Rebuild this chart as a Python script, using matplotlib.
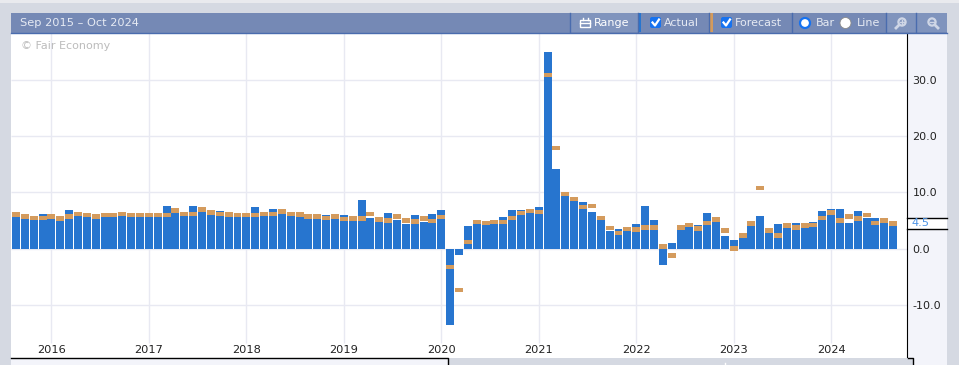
import matplotlib
matplotlib.use("Agg")
import matplotlib.pyplot as plt
from matplotlib.patches import Rectangle, FancyBboxPatch, Circle

# --- data ---
actual = [6.05, 5.7, 5.5, 6.2, 5.7, 5.35, 6.9, 6.2, 5.9, 6.2,
          5.9, 6.4, 6.2, 5.9, 5.9, 5.9, 6.4, 7.65, 6.75, 6.2,
          7.65, 6.95, 6.4, 6.75, 6.05, 5.9, 5.9, 7.3, 6.2, 7.1,
          6.6, 6.2, 6.05, 6.2, 5.7, 6.05, 5.7, 5.9, 5.35, 8.55,
          5.5, 4.8, 6.4, 5.0, 4.45, 5.9, 4.8, 6.15, 6.85, -13.6,
          -1.15, 4.0, 4.7, 4.5, 4.7, 5.6, 6.85, 6.85, 6.7, 7.4,
          35.0, 14.15, 9.4, 8.45, 8.3, 6.5, 5.1, 3.1, 3.45, 3.1,
          4.45, 7.65, 5.15, -3.0, 0.9, 3.4, 3.9, 4.25, 6.4, 4.8,
          2.3, 1.45, 2.0, 4.1, 5.7, 2.85, 4.45, 3.75, 4.6, 4.6,
          4.8, 6.75, 6.95, 7.1, 4.6, 6.75, 5.5, 5.35, 4.6, 4.5]
forecast = [6.05, 5.7, 5.5, 5.5, 5.7, 5.35, 5.7, 6.2, 5.9, 5.7,
            5.9, 5.9, 6.2, 5.9, 5.9, 5.9, 5.9, 5.9, 6.75, 6.2,
            6.2, 6.95, 6.4, 6.2, 6.05, 5.9, 5.9, 5.9, 6.2, 6.2,
            6.6, 6.2, 6.05, 5.7, 5.7, 5.5, 5.7, 5.2, 5.35, 5.35,
            6.2, 5.15, 5.0, 5.7, 5.0, 4.8, 5.35, 4.85, 5.6, -3.3,
            -7.4, 1.15, 4.7, 4.55, 4.7, 4.7, 5.4, 6.3, 6.7, 6.5,
            30.9, 17.9, 9.7, 8.8, 7.4, 7.55, 5.4, 3.65, 2.75, 3.45,
            3.4, 3.75, 3.75, 0.35, -1.25, 3.75, 4.25, 3.55, 4.6, 5.15,
            3.2, 0.0, 2.3, 4.45, 10.7, 3.2, 2.3, 4.1, 3.75, 4.1,
            4.25, 5.5, 6.4, 5.0, 5.7, 5.35, 5.9, 4.6, 5.0, 4.45]
year_labels = ["2016", "2017", "2018", "2019", "2020", "2021", "2022", "2023", "2024"]
year_pos = [4, 15, 26, 37, 48, 59, 70, 81, 92]
y_ticks = [-10, 0, 10, 20, 30]
last_value = 4.5

W, H = 959, 365
PAGE = "#d5d9e2"
HEAD = "#7589b5"
HEAD_LINE = "#4a6cae"
LIGHT = "#f3f4fa"
BLUE = "#2775cf"
TAN = "#d49b5d"
GRID = "#e8e9f2"
HEAD_TXT = "#e6eaf3"

plt.rcParams['font.family'] = ['DejaVu Sans']
fig = plt.figure(figsize=(W / 100, H / 100), dpi=100, facecolor=PAGE)

# overlay in pixel coordinates for the page furniture
bg = fig.add_axes([0, 0, 1, 1], zorder=0)
bg.set_xlim(0, W)
bg.set_ylim(H, 0)
bg.axis("off")
bg.add_patch(Rectangle((0, 0), W, 3, fc="#e9eaee", ec="none"))
bg.add_patch(Rectangle((11, 33), 896, 325, fc="white", ec="none"))
bg.add_patch(Rectangle((907, 33), 40, 332, fc=LIGHT, ec="none"))
bg.add_patch(Rectangle((11, 358), 437, 7, fc=LIGHT, ec="none"))
bg.add_patch(Rectangle((907, 217.5), 40, 11, fc="white", ec="none"))

# --- chart ---
ax = fig.add_axes([11 / W, 1 - 358 / H, 896 / W, 325 / H], zorder=1)
ax.patch.set_alpha(0)
x = list(range(len(actual)))
ax.vlines(year_pos, -16.8, 38.35, color=GRID, lw=1, zorder=1)
ax.hlines(y_ticks, -0.564, 100.56, color=GRID, lw=1, zorder=1)
ax.bar(x, actual, width=0.9, color=BLUE, zorder=2)
band = 0.75
ax.bar(x, [band] * len(x), bottom=[f - band / 2 for f in forecast], width=0.9, color=TAN, zorder=3)
ax.set_xlim(-0.564, 100.56)
ax.set_ylim(-19.48, 38.35)
ax.yaxis.tick_right()
ax.set_yticks(y_ticks)
ax.set_yticklabels([f"{v:.1f}" for v in y_ticks], fontsize=8, color="#222222")
ax.set_xticks([])
ax.tick_params(axis="y", length=0, pad=4)
for s in ["top", "left"]:
    ax.spines[s].set_visible(False)
ax.spines["right"].set_color("black")
ax.spines["bottom"].set_visible(False)
for lab, p in zip(year_labels, year_pos):
    ax.text(p, -18.1, lab, ha="center", va="center", fontsize=8.2, color="#222222", zorder=4)

# --- toolbar and frame ---
top = fig.add_axes([0, 0, 1, 1], zorder=2)
top.set_xlim(0, W)
top.set_ylim(H, 0)
top.axis("off")
top.patch.set_alpha(0)
top.add_patch(Rectangle((11, 13), 936, 19.5, fc=HEAD, ec="none"))
top.plot([11, 947], [32.5, 32.5], color=HEAD_LINE, lw=1)
top.text(20, 23, "Sep 2015 – Oct 2024", fontsize=8.2, color=HEAD_TXT, va="center")
top.text(21, 46, "© Fair Economy", fontsize=8, color="#bcbcbc", va="center")

# lighter buttons
top.add_patch(Rectangle((570, 13), 68, 19, fc="#8094bd", ec="none"))
top.add_patch(Rectangle((886, 13), 61, 19, fc="#8094bd", ec="none"))
for sep in [570, 638, 709, 792, 886, 916]:
    top.plot([sep, sep], [13, 32], color=HEAD_LINE, lw=1)
top.add_patch(Rectangle((638, 13), 3, 19, fc=BLUE, ec="none"))
top.add_patch(Rectangle((710, 13), 3, 19, fc=TAN, ec="none"))

# range icon
top.add_patch(Rectangle((580, 19.5), 10, 7.5, fc="none", ec="white", lw=1))
top.plot([580, 590], [22.5, 22.5], color="white", lw=1)
top.plot([582.5, 582.5], [18, 20], color="white", lw=1)
top.plot([587.5, 587.5], [18, 20], color="white", lw=1)
top.text(594, 23, "Range", fontsize=8, color="white", va="center")

# check boxes
for bx, label, tx in [(650, "Actual", 664), (721, "Forecast", 735)]:
    top.add_patch(FancyBboxPatch((bx, 17), 11, 11, boxstyle="round,pad=0,rounding_size=2",
                                 fc="#1672f0", ec="none"))
    top.plot([bx + 2.5, bx + 5, bx + 9], [22.5, 25.5, 19.5], color="white", lw=1.6)
    top.text(tx, 23, label, fontsize=8, color=HEAD_TXT, va="center")

# radio buttons
top.add_patch(Circle((805, 23), 5, fc="white", ec="#1672f0", lw=1.6))
top.text(816, 23, "Bar", fontsize=8, color=HEAD_TXT, va="center")
top.add_patch(Circle((845.5, 23), 5.5, fc="white", ec="#8a8a8a", lw=0.6))
top.text(857, 23, "Line", fontsize=8, color=HEAD_TXT, va="center")

# zoom icons, the plus has its handle on the left and the minus on the right
for cx, side in [(902, -1), (932, 1)]:
    top.add_patch(Circle((cx, 22), 3.6, fc="none", ec="#cfd6e6", lw=1.6))
    top.plot([cx + side * 3, cx + side * 6], [25, 28], color="#cfd6e6", lw=2)
    top.plot([cx - 1.8, cx + 1.8], [22, 22], color="#cfd6e6", lw=1)
    if side < 0:
        top.plot([cx, cx], [20.2, 23.8], color="#cfd6e6", lw=1)

# current value label on the axis
top.plot([907, 947], [217.5, 217.5], color="black", lw=1)
top.plot([907, 947], [228.5, 228.5], color="black", lw=1)
top.text(912, 223, f"{last_value:.1f}", fontsize=8.2, color="#4d94e6", va="center", ha="left")

# navigator strip at the bottom
top.add_patch(Rectangle((448, 358), 464.5, 7, fc=PAGE, ec="none"))
top.plot([11, 448, 448], [358, 358, 365], color="black", lw=1)
top.plot([907.5, 912.5, 912.5], [358, 358, 365], color="black", lw=1)
top.plot([725, 725], [363, 365], color="white", lw=1)

fig.savefig("out.png", dpi=100, facecolor=PAGE)
